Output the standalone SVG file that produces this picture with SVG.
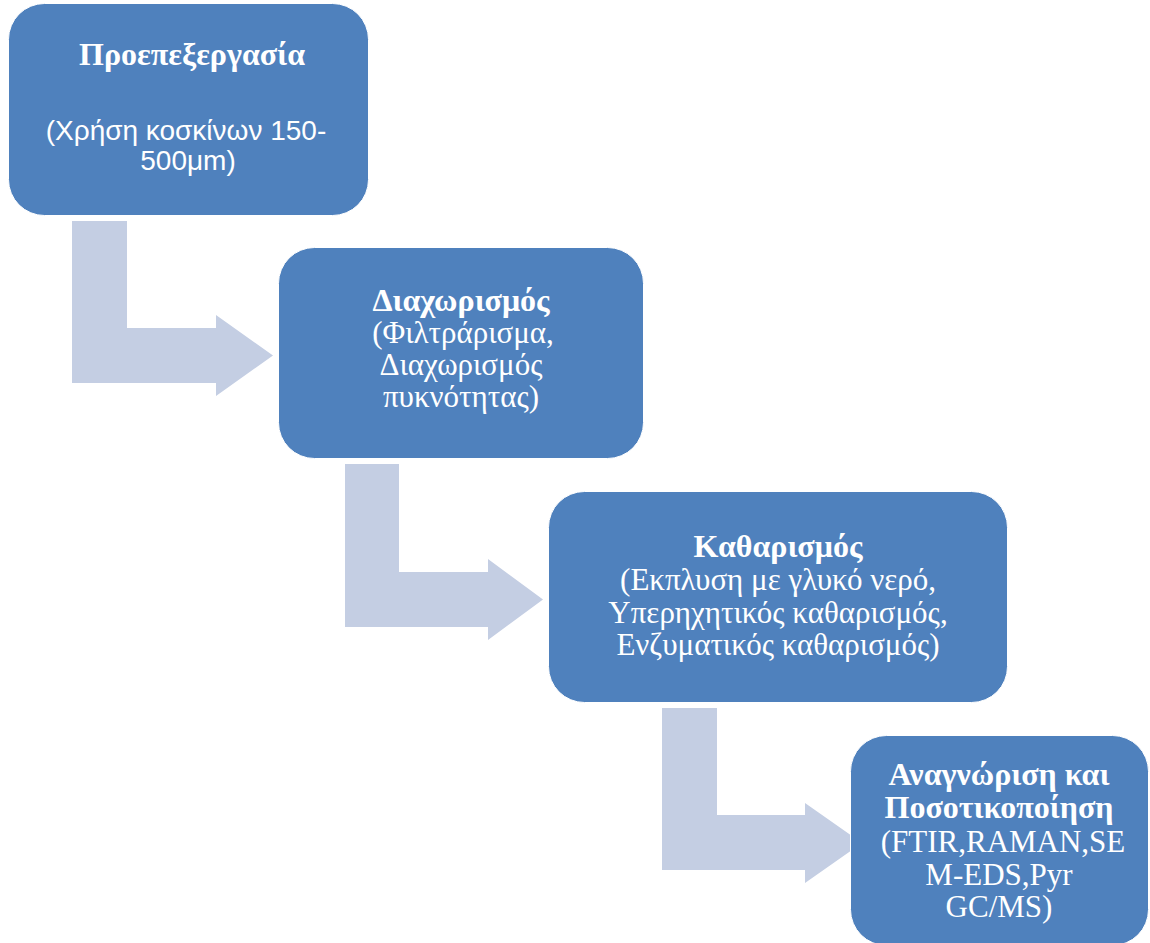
<svg xmlns="http://www.w3.org/2000/svg" width="1150" height="943" viewBox="0 0 1150 943">
<style>
.box{fill:#4F81BD;stroke:#ffffff;stroke-width:1}
.arr{fill:#C4CEE3}
text{fill:#ffffff;text-anchor:middle}
.b{font-family:"Liberation Serif","DejaVu Serif Condensed","DejaVu Serif",serif;font-weight:bold;font-size:32px}
.r{font-family:"Liberation Serif","DejaVu Serif Condensed","DejaVu Serif",serif;font-size:31px}
.s{font-family:"Liberation Sans",Arial,sans-serif;font-size:28px}
</style>
<rect width="1150" height="943" fill="#ffffff"/>
<g id="connectors">
<path class="arr" d="M72,221 H127 V328 H216 V315 L273,355.5 L216,396 V383 H72 Z"/>
<path class="arr" d="M345,464 H399 V572 H488 V559 L543,599.5 L488,640 V627 H345 Z"/>
<path class="arr" d="M662,708 H717 V815 H805 V803 L862,843 L805,883 V870 H662 Z"/>
</g>
<g id="node1">
<rect class="box" x="8.5" y="3.5" width="360" height="212" rx="36"/>
<text class="b" x="192" y="65">Προεπεξεργασία</text>
<text class="s" x="186" y="140">(Χρήση κοσκίνων 150-</text>
<text class="s" x="188" y="170">500μm)</text>
</g>
<g id="node2">
<rect class="box" x="278.5" y="247.5" width="365" height="211" rx="36"/>
<text class="b" x="461" y="311">Διαχωρισμός</text>
<text class="r" x="463" y="343">(Φιλτράρισμα,</text>
<text class="r" x="461" y="375">Διαχωρισμός</text>
<text class="r" x="461" y="407">πυκνότητας)</text>
</g>
<g id="node3">
<rect class="box" x="548.5" y="491.5" width="459" height="211" rx="36"/>
<text class="b" x="778" y="557">Καθαρισμός</text>
<text class="r" x="778" y="590">(Εκπλυση με γλυκό νερό,</text>
<text class="r" x="778" y="623">Υπερηχητικός καθαρισμός,</text>
<text class="r" x="778" y="655">Ενζυματικός καθαρισμός)</text>
</g>
<g id="node4">
<rect class="box" x="850.5" y="735.5" width="298" height="210" rx="36"/>
<text class="b" x="999" y="785">Αναγνώριση και</text>
<text class="b" x="999" y="818">Ποσοτικοποίηση</text>
<text class="r" x="1003" y="852">(FTIR,RAMAN,SE</text>
<text class="r" x="999" y="885">M-EDS,Pyr</text>
<text class="r" x="999" y="917">GC/MS)</text>
</g>
</svg>
